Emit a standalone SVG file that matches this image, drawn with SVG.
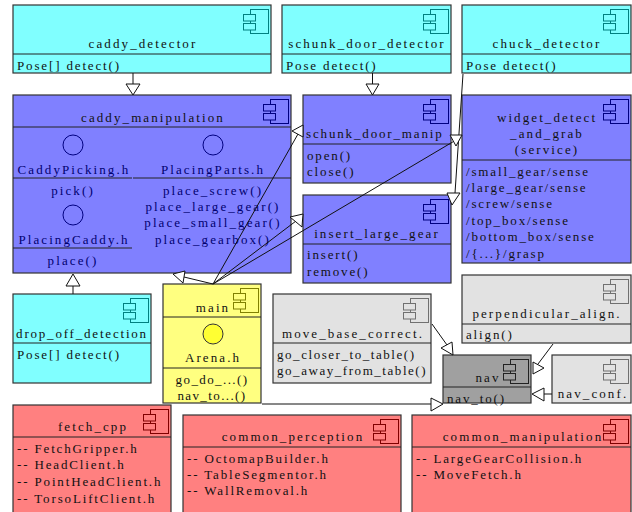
<svg xmlns="http://www.w3.org/2000/svg" width="632" height="512" viewBox="0 0 632 512">
<style>
text{font-family:"Liberation Serif","Times New Roman",serif;font-size:13px;letter-spacing:1.85px;fill:#111}
.m{text-anchor:middle;letter-spacing:2.1px}
.t{letter-spacing:1.55px}
.h{fill:#000070}
.box{stroke:#333;stroke-width:1.2}
.cy{fill:#80ffff}.bl{fill:#8080ff}.ye{fill:#ffff80}.gr{fill:#e2e2e2}.dk{fill:#a0a0a0}.re{fill:#ff8080}
.d{stroke:#222;stroke-width:1;fill:none}
.i-cy{fill:#80ffff;stroke:#008080}.i-bl{fill:#8080ff;stroke:#000080}.i-ye{fill:#ffff80;stroke:#808000}.i-gr{fill:#e2e2e2;stroke:#707070}.i-dk{fill:#a0a0a0;stroke:#222}.i-re{fill:#ff8080;stroke:#800000}
.circ{fill:none;stroke:#000080;stroke-width:1}
.line{stroke:#111;stroke-width:1;fill:none}
.tri{stroke:#111;stroke-width:1;fill:#fff}
</style>
<defs>
<g id="ic" stroke-width="1"><rect x="-20.5" y="4.500" width="18" height="24"/><rect x="-27.5" y="9.500" width="12" height="6.500"/><rect x="-27.5" y="18.500" width="12" height="6.500"/></g>
</defs>
<g id="caddy_detector"><rect class="box cy" x="13" y="5" width="258" height="68"/><path class="d" d="M13 54H271"/><use href="#ic" x="271" y="5" class="i-cy"/><text class="m" x="143" y="48">caddy_detector</text><text x="17" y="70">Pose[] detect()</text></g>
<g id="schunk_door_detector"><rect class="box cy" x="282" y="5" width="169" height="68"/><path class="d" d="M282 54H451"/><use href="#ic" x="451" y="5" class="i-cy"/><text class="m" x="367" y="48">schunk_door_detector</text><text x="286" y="70">Pose detect()</text></g>
<g id="chuck_detector"><rect class="box cy" x="462" y="5" width="169" height="68"/><path class="d" d="M462 54H631"/><use href="#ic" x="631" y="5" class="i-cy"/><text class="m" x="547" y="48">chuck_detector</text><text x="466" y="70">Pose detect()</text></g>
<g id="caddy_manipulation"><rect class="box bl" x="13" y="95" width="278" height="178"/><path class="d" d="M13 127H291M13 178H132M133 178H291M13 248H132"/><use href="#ic" x="291" y="95" class="i-bl"/><text class="m" x="153" y="122">caddy_manipulation</text>
<circle class="circ" cx="73" cy="145" r="10"/><circle class="circ" cx="213" cy="145" r="10"/><circle class="circ" cx="73" cy="215" r="10"/>
<text class="m h" x="74" y="174">CaddyPicking.h</text><text class="m h" x="213" y="174">PlacingParts.h</text><text class="m h" x="73" y="195">pick()</text><text class="m h" x="213" y="195">place_screw()</text><text class="m h" x="213" y="211">place_large_gear()</text><text class="m h" x="213" y="227">place_small_gear()</text><text class="m h" x="213" y="244">place_gearbox()</text><text class="m h" x="74" y="244">PlacingCaddy.h</text><text class="m h" x="73" y="265">place()</text></g>
<g id="schunk_door_manip"><rect class="box bl" x="303" y="95" width="148" height="88"/><path class="d" d="M303 144H451"/><use href="#ic" x="451" y="95" class="i-bl"/><text x="306" y="138">schunk_door_manip</text><text x="307" y="160">open()</text><text x="307" y="176">close()</text></g>
<g id="insert_large_gear"><rect class="box bl" x="303" y="195" width="148" height="88"/><path class="d" d="M303 244H451"/><use href="#ic" x="451" y="195" class="i-bl"/><text class="m" x="377" y="238">insert_large_gear</text><text x="307" y="259">insert()</text><text x="307" y="276">remove()</text></g>
<g id="widget_detect_and_grab"><rect class="box bl" x="462" y="95" width="169" height="168"/><path class="d" d="M462 160H631"/><use href="#ic" x="631" y="95" class="i-bl"/><text class="m" x="547" y="122">widget_detect</text><text class="m" x="547" y="138">_and_grab</text><text class="m" x="547" y="154">(service)</text><text x="466" y="176">/small_gear/sense</text><text x="466" y="192">/large_gear/sense</text><text x="466" y="208">/screw/sense</text><text x="466" y="225">/top_box/sense</text><text x="466" y="241">/bottom_box/sense</text><text x="466" y="258">/{...}/grasp</text></g>
<g id="drop_off_detection"><rect class="box cy" x="13" y="294" width="138" height="89"/><path class="d" d="M13 343H151"/><use href="#ic" x="151" y="294" class="i-cy"/><text class="m" x="82" y="338" style="letter-spacing:1.8px">drop_off_detection</text><text x="17" y="359">Pose[] detect()</text></g>
<g id="main"><rect class="box ye" x="163" y="284" width="98" height="119"/><path class="d" d="M163 317H261M163 368H261"/><use href="#ic" x="261" y="284" class="i-ye"/><text class="m" x="213" y="312">main</text><circle cx="213" cy="334" r="10" fill="#ffff33" stroke="#333"/><text class="m" x="213" y="362">Arena.h</text><text class="m" x="212" y="384" style="letter-spacing:1.4px">go_do_...()</text><text class="m" x="212" y="400" style="letter-spacing:1.4px">nav_to...()</text></g>
<g id="move_base_correct"><rect class="box gr" x="273" y="294" width="158" height="89"/><path class="d" d="M273 343H431"/><use href="#ic" x="431" y="294" class="i-gr"/><text class="m" x="353" y="338">move_base_correct.</text><text class="t" x="277" y="359">go_closer_to_table()</text><text class="t" x="277" y="375">go_away_from_table()</text></g>
<g id="perpendicular_align"><rect class="box gr" x="462" y="275" width="169" height="68"/><path class="d" d="M462 324H631"/><use href="#ic" x="631" y="275" class="i-gr"/><text class="m" x="547" y="318">perpendicular_align.</text><text x="466" y="339">align()</text></g>
<g id="nav"><rect class="box dk" x="443" y="355" width="88" height="48"/><path class="d" d="M443 387H531"/><use href="#ic" x="531" y="355" class="i-dk"/><text class="m" x="488" y="382">nav</text><text x="447" y="403">nav_to()</text></g>
<g id="nav_conf"><rect class="box gr" x="552" y="355" width="79" height="48"/><use href="#ic" x="631" y="355" class="i-gr"/><text class="m" x="593" y="398">nav_conf.</text></g>
<g id="fetch_cpp"><rect class="box re" x="13" y="405" width="158" height="110"/><path class="d" d="M13 437H171"/><use href="#ic" x="171" y="405" class="i-re"/><text class="m" x="93" y="431">fetch_cpp</text><text x="17" y="453">-- FetchGripper.h</text><text x="17" y="469">-- HeadClient.h</text><text x="17" y="486">-- PointHeadClient.h</text><text x="17" y="503">-- TorsoLiftClient.h</text></g>
<g id="common_perception"><rect class="box re" x="183" y="415" width="218" height="100"/><path class="d" d="M183 447H401"/><use href="#ic" x="401" y="415" class="i-re"/><text class="m" x="293" y="441">common_perception</text><text x="187" y="463">-- OctomapBuilder.h</text><text x="187" y="479">-- TableSegmentor.h</text><text x="187" y="495">-- WallRemoval.h</text></g>
<g id="common_manipulation"><rect class="box re" x="412" y="415" width="219" height="100"/><path class="d" d="M412 447H631"/><use href="#ic" x="631" y="415" class="i-re"/><text class="m" x="523" y="441">common_manipulation</text><text x="416" y="463">-- LargeGearCollision.h</text><text x="416" y="479">-- MoveFetch.h</text></g>
<g id="connectors">
<path class="line" d="M133 73V84"/><path class="tri" d="M126 84H140L133 95Z"/>
<path class="line" d="M372.500 73V84"/><path class="tri" d="M366 84H379L372.500 95Z"/>
<path class="line" d="M463 74L455 193"/><path class="tri" d="M447 193H460L452 205Z"/>
<path class="line" d="M73 294V286"/><path class="tri" d="M66 286H80L73 274Z"/>
<path class="line" d="M213 284L298 134"/><path class="tri" d="M292 131L303 125L303 137Z"/>
<path class="line" d="M213 284L296 221"/><path class="tri" d="M290 217L303 214L302 227Z"/>
<path class="line" d="M213 284L456 140"/><path class="tri" d="M450 135H462L456 146Z"/>
<path class="line" d="M213 284L184 277"/><path class="tri" d="M173 274L185 271L183 283Z"/>
<path class="line" d="M262 404H431"/><path class="tri" d="M431 398L443 404L431 411Z"/>
<path class="line" d="M432 324L447 345"/><path class="tri" d="M441 348L452 342L453 355Z"/>
<path class="line" d="M553 344L538 364"/><path class="tri" d="M533 362L544 368L533 374Z"/>
<path class="line" d="M552 394H544"/><path class="tri" d="M532 394L544 388V401Z"/>
</g>
</svg>
